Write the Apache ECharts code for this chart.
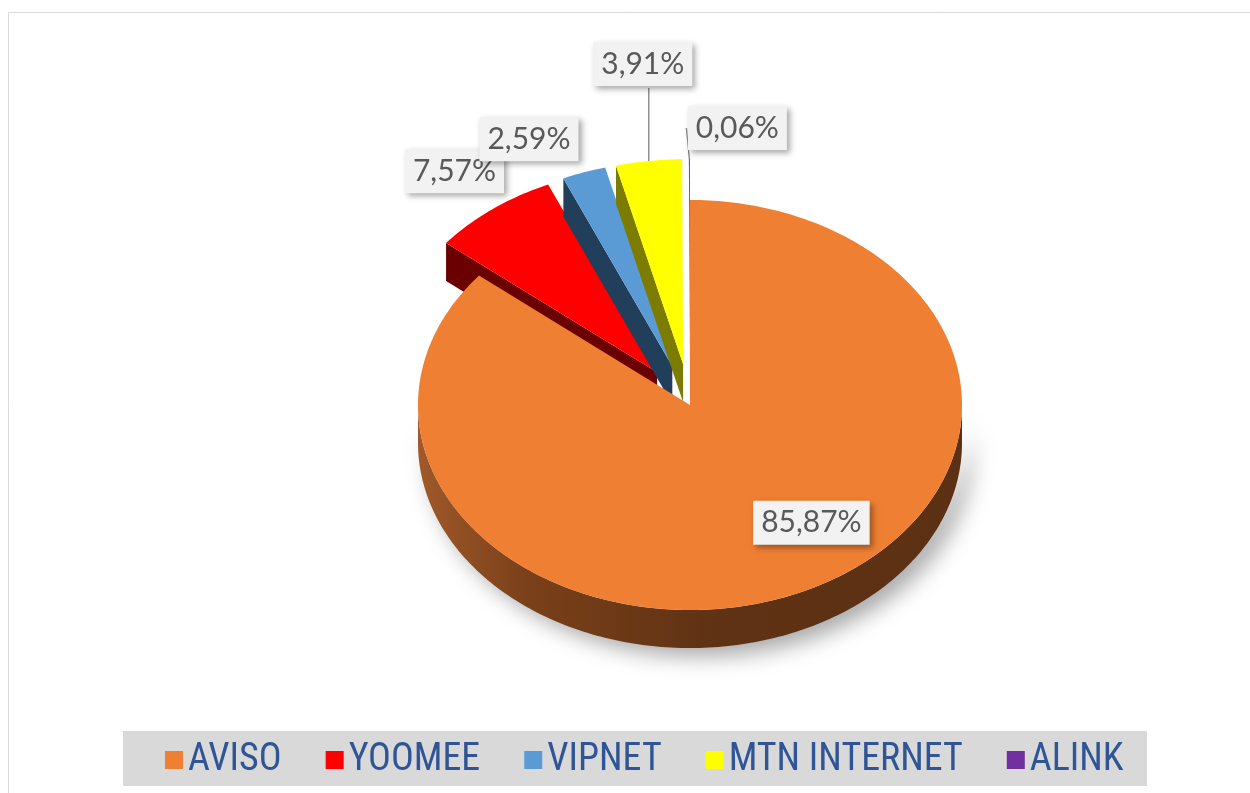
<!DOCTYPE html>
<html>
<head>
<meta charset="utf-8">
<script src="https://cdn.jsdelivr.net/npm/echarts@6/dist/echarts.min.js"></script>
<style>
  html, body { margin: 0; padding: 0; background: #ffffff; }
  #chart { width: 1250px; height: 793px; }
</style>
</head>
<body>
<div id="chart"></div>
<script>
// data (parts in %)
var categories = ['AVISO', 'YOOMEE', 'VIPNET', 'MTN INTERNET', 'ALINK'];
var shares = [85.87, 7.57, 2.59, 3.91, 0.06];
var shareLabels = ['85,87%', '7,57%', '2,59%', '3,91%', '0,06%'];

// styles
var topColors  = ['#EF7F32', '#FF0000', '#5B9BD5', '#FFFF00', '#7030A0'];
var sideColors = ['#5E3214', '#6A0000', '#213E5B', '#7C7C00', '#3B1858'];
var explode    = [0, 0.2, 0.2, 0.2, 0.2];
var showLine   = [false, false, false, true, true];
// label anchor: radius factor + pixel nudge from that point
var labelLayout = [
  { r: 0.62, dx: 49, dy: 3 },
  { r: 1, dx: -38, dy: -38 },
  { r: 1, dx: -55, dy: -33 },
  { r: 1, dx: -6, dy: -97 },
  { r: 1, dx: 48, dy: -31 }
];

// pie geometry (tilted ellipse)
var CX = 690, CY = 405, RX = 272, RY = 205, DEPTH = 38;

var total = 0;
shares.forEach(function (v) { total += v; });
var starts = [], ends = [];
var acc = 0;
for (var i = 0; i < shares.length; i++) {
  starts.push(acc / total * 360);
  acc += shares[i];
  ends.push(acc / total * 360);
}

function pt(a, r, off, down) {
  var rad = a * Math.PI / 180;
  return [CX + off[0] + Math.sin(rad) * RX * r,
          CY + off[1] - Math.cos(rad) * RY * r + (down || 0)];
}

function arc(a0, a1, off, down) {
  var pts = [];
  var steps = Math.max(2, Math.ceil((a1 - a0) / 1));
  for (var k = 0; k <= steps; k++) {
    pts.push(pt(a0 + (a1 - a0) * k / steps, 1, off, down));
  }
  return pts;
}

function makeRender(idx) {
  return function (params, api) {
    var s = starts[idx], e = ends[idx];
    var mid = (s + e) / 2, mrad = mid * Math.PI / 180;
    var off = [Math.sin(mrad) * RX * explode[idx], -Math.cos(mrad) * RY * explode[idx]];
    var apex = [CX + off[0], CY + off[1]];
    var apexD = [apex[0], apex[1] + DEPTH];
    var children = [];

    // radial walls
    [[s, s - 90], [e, e + 90]].forEach(function (w) {
      if (Math.cos(w[1] * Math.PI / 180) < -0.01) {
        children.push({
          type: 'polygon',
          shape: { points: [apex, pt(w[0], 1, off), pt(w[0], 1, off, DEPTH), apexD] },
          style: { fill: sideColors[idx] }
        });
      }
    });

    // outer wall (front part only)
    var a0 = Math.max(s, 90), a1 = Math.min(e, 270);
    if (a1 > a0) {
      var wall = arc(a0, a1, off).concat(arc(a0, a1, off, DEPTH).reverse());
      var wallStyle = { fill: sideColors[idx] };
      if (idx === 0) {
        wallStyle = {
          fill: new echarts.graphic.LinearGradient(1, 0, 0, 0, [
            { offset: 0, color: '#5C3013' },
            { offset: 0.45, color: '#5F3214' },
            { offset: 0.8, color: '#7A4019' },
            { offset: 1, color: '#A0592A' }
          ]),
          shadowBlur: 22,
          shadowColor: 'rgba(0,0,0,0.35)',
          shadowOffsetX: 10,
          shadowOffsetY: 8
        };
      }
      children.push({ type: 'polygon', shape: { points: wall }, style: wallStyle });
    }

    // top face
    children.push({
      type: 'polygon',
      shape: { points: [apex].concat(arc(s, e, off)) },
      style: { fill: topColors[idx] }
    });

    // label
    var lay = labelLayout[idx];
    var anchor = pt(mid, lay.r, off);
    var lx = anchor[0] + lay.dx, ly = anchor[1] + lay.dy;
    if (showLine[idx]) {
      var from = pt(mid, 1, off);
      var end = idx === 3 ? [from[0], ly + 24] : [lx - 51, ly];
      children.push({
        type: 'polyline',
        shape: { points: [from, end] },
        style: { stroke: '#7F7F7F', lineWidth: 1.3, fill: null }
      });
    }
    children.push({
      type: 'text',
      z2: 50,
      style: {
        text: shareLabels[idx],
        x: lx, y: ly,
        align: 'center', verticalAlign: 'middle',
        fill: '#595959',
        font: '30px Lato, "Open Sans", sans-serif',
        backgroundColor: '#F2F2F2',
        padding: [7, 8, 7, 8],
        shadowBlur: 6,
        shadowColor: 'rgba(0,0,0,0.35)',
        shadowOffsetX: 3,
        shadowOffsetY: 3
      }
    });

    return { type: 'group', children: children };
  };
}

var series = [];
for (var j = 0; j < categories.length; j++) {
  series.push({
    type: 'custom',
    name: categories[j],
    coordinateSystem: 'none',
    z: j === 0 ? 3 : 2,
    silent: true,
    itemStyle: { color: topColors[j] },
    renderItem: makeRender(j),
    data: [[shares[j]]]
  });
}

var myChart = echarts.init(document.getElementById('chart'));
var option = {
  backgroundColor: '#ffffff',
  animation: false,
  graphic: [
    {
      type: 'rect', z: -10,
      shape: { x: 8.5, y: 12.5, width: 1260, height: 800 },
      style: { fill: '#ffffff', stroke: '#D9D9D9', lineWidth: 1 }
    },
    {
      type: 'rect', z: -5,
      shape: { x: 123, y: 731, width: 1024, height: 55 },
      style: { fill: '#D9D9D9' }
    }
  ],
  legend: {
    data: categories,
    left: 160,
    top: 736,
    icon: 'rect',
    itemWidth: 18,
    itemHeight: 18,
    itemGap: 44,
    textStyle: {
      color: '#2F5597',
      fontSize: 38,
      fontFamily: '"Liberation Sans Narrow", "Roboto Condensed", sans-serif'
    }
  },
  series: series
};
myChart.setOption(option);
</script>
</body>
</html>
